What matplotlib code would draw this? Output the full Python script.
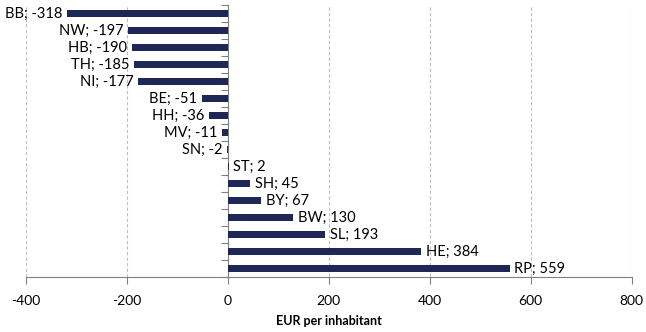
import matplotlib
matplotlib.use("Agg")
import matplotlib.pyplot as plt
import numpy as np

categories = ["BB", "NW", "HB", "TH", "NI", "BE", "HH", "MV", "SN",
              "ST", "SH", "BY", "BW", "SL", "HE", "RP"]
values = [-318, -197, -190, -185, -177, -51, -36, -11, -2,
          2, 45, 67, 130, 193, 384, 559]
xticks = [-400, -200, 0, 200, 400, 600, 800]
xlabel = "EUR per inhabitant"

plt.rcParams['font.family'] = ['Lato', 'DejaVu Sans']

fig = plt.figure(figsize=(6.46, 3.32), dpi=100)
ax = fig.add_axes([0.0396, 0.166, 0.938, 0.819])

n = len(categories)
ypos = np.arange(n)
bar_color = '#1F2757'
ax.barh(ypos, values, height=0.44, color=bar_color, zorder=3)

ax.set_ylim(n - 0.5, -0.5)
ax.set_xlim(-400, 800)
ax.set_xticks(xticks)
ax.set_xticklabels([str(t) for t in xticks], fontsize=10)

for x in xticks:
    if x != 0:
        ax.axvline(x, color='#BFBFBF', linestyle=(0, (3, 2)), linewidth=0.8, zorder=1)

for y, v, c in zip(ypos, values, categories):
    lab = f"{c}; {v}"
    if v < 0:
        ax.text(v - 9, y, lab, ha='right', va='center', fontsize=10.5, color='black')
    else:
        ax.text(v + 9, y, lab, ha='left', va='center', fontsize=10.5, color='black')

for s in ['top', 'right']:
    ax.spines[s].set_visible(False)
ax.spines['left'].set_position(('data', 0))
ax.spines['left'].set_color('#808080')
ax.spines['bottom'].set_color('#808080')
ax.set_yticks(np.arange(-0.5, n, 1.0))
ax.set_yticklabels([])
ax.tick_params(axis='y', direction='out', length=5, color='#808080')
ax.tick_params(axis='x', direction='out', length=5, color='#808080', pad=8)

ax.set_xlabel(xlabel, fontsize=9, fontweight='bold', labelpad=6)

fig.savefig("out.png", dpi=100)
